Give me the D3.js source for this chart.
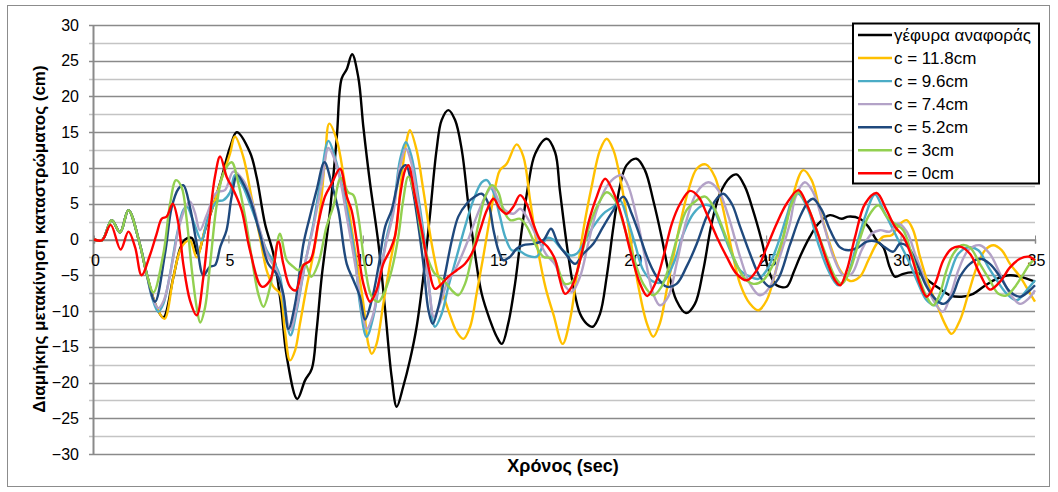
<!DOCTYPE html>
<html>
<head>
<meta charset="utf-8">
<script src="https://cdn.jsdelivr.net/npm/d3@7"></script>
<style>
body { margin: 0; background: #fff; }
text { font-family: "Liberation Sans", Arial, sans-serif; }
</style>
</head>
<body>
<script>
var w = 1058;
var h = 492;

// series names and time/displacement points (t in sec, value in cm)
var seriesNames = ["γέφυρα αναφοράς", "c = 11.8cm", "c = 9.6cm", "c = 7.4cm", "c = 5.2cm", "c = 3cm", "c = 0cm"];
var seriesColors = ["#000000", "#FFC000", "#4BACC6", "#B3A2C7", "#1F497D", "#92D050", "#FF0000"];

var startPts = [[0,0],[0.3,-0.1],[0.66,2.7],[0.97,1.0],[1.28,4.1],[1.7,-0.6],[1.96,-4.8]];

var bridge = startPts.concat([[2.33,-9.5],[2.58,-10.9],[2.95,-5.3],[3.2,-1.3],[3.39,0],[3.64,0.2],[3.85,-2.0],[4.13,1.3],[4.44,4.8],[4.75,8.7],[5.06,12.9],[5.31,15],[5.8,12.2],[6.05,8.7],[6.36,2.2],[6.67,-2],[6.95,-9],[7.17,-16.4],[7.56,-22.3],[7.85,-19.7],[8.1,-18.1],[8.28,-12.7],[8.47,-5.2],[8.78,4.1],[9.03,14.3],[9.21,22.5],[9.4,23.8],[9.6,25.9],[9.83,22.7],[10.02,15.7],[10.27,7.8],[10.58,-0.6],[10.83,-9.9],[11.07,-19.2],[11.26,-23.4],[11.5,-20.6],[11.75,-16.9],[12.0,-12.2],[12.25,-5.2],[12.49,3.2],[12.74,12.5],[12.93,16.7],[13.18,18.1],[13.43,16.7],[13.68,12.5],[13.92,5],[14.17,-2],[14.42,-7.6],[14.73,-11.3],[14.98,-13.6],[15.17,-14.6],[15.41,-11.7],[15.66,-6.2],[15.91,1.3],[16.16,7.8],[16.41,12],[16.84,14.1],[17.15,12.2],[17.33,6.8],[17.58,-0.6],[17.83,-6.6],[18.08,-10.4],[18.33,-11.8],[18.55,-12.2],[18.82,-10.4],[19.07,-5.2],[19.32,1.8],[19.56,7.4],[19.81,10.4],[20.18,11.3],[20.49,9.7],[20.8,5.5],[21.11,0.4],[21.36,-4.3],[21.66,-8.5],[22.02,-10.3],[22.35,-9],[22.66,-4.3],[22.97,2.2],[23.28,6.4],[23.66,8.7],[23.9,9.1],[24.21,7.4],[24.51,4.1],[24.83,-0.1],[25.14,-4.8],[25.39,-6.4],[25.76,-6.6],[26.03,-4.5],[26.26,-2.4],[26.63,0.4],[26.94,2.2],[27.37,3.4],[27.81,2.9],[28.06,3.2],[28.49,2.9],[28.8,1.8],[29.11,-0.1],[29.36,-1.1],[29.6,-3.9],[29.79,-5.2],[30.1,-4.8],[30.41,-4.6],[30.72,-4.8],[31.09,-5.9],[31.46,-6.9],[31.84,-7.8],[32.27,-8],[32.7,-7.6],[33.08,-6.6],[33.57,-5.5],[34.07,-5],[34.44,-5.2],[35,-5.9]]);

var c118 = startPts.concat([[2.33,-9.5],[2.62,-11.1],[2.95,-5.3],[3.2,-1.5],[3.39,-0.4],[3.57,-0.1],[3.82,-2.5],[4.13,1.5],[4.44,4.8],[4.75,8.5],[5.06,12],[5.24,14.4],[5.55,11.6],[5.86,5.9],[6.17,0.4],[6.42,-4.3],[6.67,-6.6],[6.92,-7.6],[7.1,-12.7],[7.29,-16.9],[7.48,-15.5],[7.66,-11.8],[7.91,-6.6],[8.16,-2],[8.41,4.1],[8.59,11.1],[8.75,16.2],[9.03,13.9],[9.3,8.5],[9.65,-0.1],[10.02,-9],[10.2,-14.6],[10.33,-16],[10.51,-14.6],[10.76,-9],[11.01,-3.4],[11.26,1.8],[11.44,8.8],[11.63,13.9],[11.75,15.3],[12.0,12.5],[12.25,6.9],[12.56,-0.6],[12.87,-6.2],[13.18,-9.9],[13.49,-12.9],[13.74,-13.9],[13.99,-12.2],[14.23,-7.6],[14.48,-2.4],[14.73,3.2],[14.98,8.3],[15.1,9.7],[15.35,10.6],[15.72,13.3],[15.97,11.6],[16.22,5.5],[16.47,-0.6],[16.8,-6.8],[17.09,-10.5],[17.43,-14.6],[17.7,-11.3],[17.95,-5.2],[18.2,1.3],[18.51,7.4],[18.82,12.5],[19.07,14.1],[19.32,12.5],[19.63,7.4],[19.94,0.4],[20.25,-6.6],[20.56,-11.7],[20.8,-13.6],[21.05,-11.7],[21.3,-7.1],[21.55,-2.4],[21.8,2.2],[22.11,6.9],[22.42,9.9],[22.75,10.5],[23.1,8.7],[23.41,4.1],[23.72,-1.5],[24.03,-6.2],[24.4,-9],[24.71,-9.9],[25.02,-8.5],[25.33,-4.8],[25.64,0.4],[25.95,5.5],[26.38,9.7],[26.69,8.3],[27.0,4.1],[27.37,-0.6],[27.75,-4.3],[28.12,-5.8],[28.49,-5.2],[28.8,-2.9],[29.11,-0.6],[29.36,0.4],[29.67,0.6],[29.98,2.2],[30.23,2.7],[30.47,1.3],[30.72,-2.4],[31.03,-6.2],[31.34,-9],[31.65,-11.8],[31.9,-13.2],[32.21,-11.3],[32.52,-7.6],[32.83,-3.9],[33.14,-1.5],[33.45,-0.8],[33.76,-1.5],[34.07,-3.4],[34.44,-5.2],[34.75,-7.1],[35,-8.7]]);

var c96 = startPts.concat([[2.15,-8],[2.39,-10.1],[2.58,-9],[2.83,-4.8],[3.07,0.4],[3.32,4.1],[3.45,4.6],[3.7,2.5],[4.0,-0.1],[4.25,3.2],[4.56,5.3],[4.81,5.5],[5.06,6.6],[5.24,9],[5.49,7.8],[5.8,5],[6.11,1.8],[6.42,-1.5],[6.73,-3.4],[6.92,-5.2],[7.1,-9.9],[7.31,-13.4],[7.54,-9.9],[7.85,-3.4],[8.16,2.2],[8.41,7.8],[8.72,13.8],[8.96,11.5],[9.21,7.8],[9.46,3.2],[9.71,-2.4],[9.89,-9],[10.14,-13.6],[10.39,-10.8],[10.64,-5.2],[10.89,0.4],[11.13,4.1],[11.38,11.1],[11.6,13.6],[11.81,11.6],[12.06,6],[12.31,-0.6],[12.49,-7.6],[12.68,-12.2],[12.93,-10.4],[13.18,-6.6],[13.49,-2.4],[13.8,1.8],[14.11,5.5],[14.42,8],[14.61,8.3],[14.86,6.6],[15.1,3.2],[15.29,0.4],[15.54,-1.5],[15.78,-1.5],[16.09,-2.2],[16.47,-2.4],[16.84,0.2],[17.08,0],[17.33,-1.1],[17.7,-2.2],[17.95,-2],[18.2,-0.6],[18.57,1.8],[18.94,3.6],[19.32,4.6],[19.56,5.5],[19.81,3.2],[20.12,-0.6],[20.43,-4.3],[20.8,-5.9],[21.17,-5.9],[21.55,-3.4],[21.92,0.8],[22.29,3.6],[22.66,4.8],[22.97,4.6],[23.28,2.2],[23.66,-1.5],[24.03,-4.3],[24.4,-5.2],[24.71,-5.5],[25.02,-4.3],[25.39,-1.1],[25.76,3.2],[26.0,5.8],[26.2,6.4],[26.57,4.1],[26.94,-0.6],[27.31,-4.3],[27.68,-6.4],[28.0,-5.2],[28.31,-1.5],[28.68,3.2],[29.05,6.3],[29.36,4.1],[29.67,1.8],[29.98,-0.6],[30.35,-3.4],[30.66,-6.2],[30.97,-8.5],[31.28,-9.2],[31.59,-7.6],[31.84,-4.8],[32.15,-2],[32.52,-1.1],[32.89,-1.5],[33.27,-3.9],[33.58,-5.7],[33.95,-7.6],[34.32,-8.5],[34.69,-7.1],[35,-5.7]]);

var c74 = startPts.concat([[2.15,-7.8],[2.39,-9.6],[2.6,-8.5],[2.9,-3.5],[3.15,1.5],[3.4,4.5],[3.57,5.3],[3.75,3.8],[3.94,1.3],[4.2,3.5],[4.56,6.6],[4.87,6.9],[5.18,9.5],[5.55,8.3],[5.86,5.5],[6.17,1.3],[6.48,-2.4],[6.79,-4.3],[7.04,-8],[7.29,-12.7],[7.54,-9.4],[7.85,-3.4],[8.16,1.8],[8.47,7.8],[8.72,12.8],[8.96,11.1],[9.2,7.5],[9.4,3.2],[9.6,-1],[9.8,-5.5],[9.97,-10],[10.14,-12.5],[10.39,-10.4],[10.64,-4.8],[10.89,-0.1],[11.13,3.6],[11.38,10.2],[11.6,12.7],[11.81,10.6],[12.06,5],[12.31,-1.5],[12.49,-7.6],[12.64,-10.8],[12.87,-9],[13.12,-6.2],[13.49,-3.8],[13.86,-0.6],[14.23,3.2],[14.55,6],[14.8,7.3],[15.04,5.5],[15.29,4.1],[15.6,3.6],[15.85,4.3],[16.09,3.2],[16.47,0.4],[16.84,-2.2],[17.15,-3.5],[17.46,-6.2],[17.77,-7.3],[18.08,-5.2],[18.38,-0.6],[18.7,4.1],[19.07,7.4],[19.44,8.8],[19.63,9],[19.88,7.4],[20.18,3.2],[20.49,-2.4],[20.8,-7.6],[21.05,-9.2],[21.36,-8],[21.67,-3.4],[22.04,2.7],[22.42,6.6],[22.85,8],[23.22,6.9],[23.6,3.2],[24.03,-2.4],[24.4,-6.2],[24.77,-7.8],[25.14,-6.6],[25.51,-2.4],[25.88,2.2],[26.1,6],[26.44,8],[26.75,6.6],[27.13,2.2],[27.5,-2.4],[27.87,-5],[28.18,-4.8],[28.55,-1.5],[28.92,0.8],[29.23,1.3],[29.6,1.1],[29.92,2.2],[30.23,1.1],[30.54,-2],[30.86,-5.2],[31.22,-8.5],[31.57,-10.1],[31.84,-8],[32.15,-4.3],[32.52,-1.5],[32.95,-0.8],[33.32,-2],[33.7,-4.8],[34.07,-7.6],[34.44,-9],[34.75,-8.3],[35,-7.1]]);

var c52 = startPts.concat([[2.27,-8.7],[2.64,-2],[2.89,4.5],[3.14,7.1],[3.32,7.6],[3.57,4.5],[3.82,-0.6],[4.07,-5],[4.31,-3.8],[4.5,-3.6],[4.7,-1],[4.93,1.3],[5.12,6],[5.33,9],[5.62,7.3],[5.86,5],[6.17,0.8],[6.48,-3.4],[6.79,-4.8],[7.04,-7.6],[7.23,-12.5],[7.48,-9],[7.79,-0.6],[8.03,3.2],[8.28,6.9],[8.57,10.8],[8.84,7.8],[9.09,4.1],[9.4,-3.4],[9.65,-5.7],[9.89,-8],[10.08,-11.2],[10.33,-8.5],[10.58,-3.8],[10.83,1.8],[11.07,4.1],[11.26,7.3],[11.44,9.9],[11.6,10.4],[11.81,7.8],[12.0,3.6],[12.25,-3.4],[12.44,-9.9],[12.6,-11.8],[12.81,-9.4],[13.06,-4.8],[13.31,-0.1],[13.55,3.2],[13.86,5],[14.17,6],[14.42,6.4],[14.67,5],[14.86,1.3],[15.04,-1.5],[15.23,-2.9],[15.48,-2.4],[15.72,-1.3],[15.97,-0.8],[16.34,-0.6],[16.71,-0.1],[17.0,1.5],[17.25,-0.5],[17.58,-2.2],[17.89,-3.4],[18.2,-2],[18.57,-0.6],[18.94,1.8],[19.32,4.1],[19.69,6],[20.0,3.6],[20.31,0.4],[20.62,-2.9],[20.93,-5.2],[21.3,-6.6],[21.67,-6.2],[22.04,-3.8],[22.42,-0.6],[22.79,3.2],[23.16,5.7],[23.41,6.4],[23.72,5],[24.03,1.8],[24.4,-2],[24.77,-5.2],[25.14,-6.6],[25.45,-5.5],[25.88,-0.8],[26.26,3.2],[26.57,5.3],[26.75,5.7],[27.07,4.1],[27.38,1.3],[27.75,-1.1],[28.06,-1.5],[28.43,-1.1],[28.74,-0.3],[29.11,-0.3],[29.42,-1.1],[29.73,-1.7],[29.98,-0.6],[30.29,-1.1],[30.6,-3.4],[30.97,-6.6],[31.34,-8.5],[31.59,-9],[31.9,-8],[32.21,-5.2],[32.58,-3.4],[32.95,-2.7],[33.32,-3.4],[33.7,-5.2],[34.07,-7.3],[34.44,-8],[34.75,-7.3],[35,-6.4]]);

var c3 = startPts.concat([[2.21,-7.4],[2.58,-2],[2.83,5],[3.05,8.3],[3.26,7.3],[3.45,2.7],[3.64,-4.3],[3.82,-9.5],[3.95,-11.6],[4.13,-9.5],[4.32,-3.4],[4.57,5],[4.81,9.2],[5.12,10.8],[5.37,7.8],[5.62,3.2],[5.86,-2.4],[6.11,-7.6],[6.3,-9.4],[6.55,-6.6],[6.73,-2.4],[6.92,0.8],[7.17,-2.9],[7.41,-3.8],[7.6,-4.3],[7.85,-3.4],[8.08,-5.2],[8.34,-3.4],[8.65,1.8],[8.9,4.6],[9.18,8.6],[9.46,6.6],[9.65,6.2],[9.83,3.2],[10.08,-3.8],[10.33,-8],[10.58,-8.7],[10.83,-7.1],[11.07,-4.3],[11.32,0.4],[11.5,5.5],[11.69,8.8],[11.94,6],[12.19,0.4],[12.44,-2.9],[12.68,-4.8],[13.0,-5.7],[13.31,-7.1],[13.55,-7.8],[13.8,-6.2],[14.05,-2.4],[14.3,2.2],[14.55,6],[14.8,7.6],[15.04,6.6],[15.23,4.1],[15.48,2.7],[15.85,2.9],[16.1,1.8],[16.34,-0.1],[16.71,-2.4],[17.09,-2.7],[17.52,-6.2],[17.83,-5.7],[18.14,-2],[18.45,2.2],[18.76,5],[19.07,6.6],[19.38,5.5],[19.69,2.2],[20.06,-2.4],[20.43,-6.2],[20.8,-7.8],[21.11,-6.6],[21.42,-3.4],[21.73,0.8],[22.04,4.1],[22.42,5.5],[22.73,6],[23.04,4.6],[23.41,1.3],[23.78,-2.4],[24.15,-5.2],[24.52,-6.2],[24.89,-5.7],[25.27,-3.4],[25.64,0.4],[25.95,5],[26.2,6.6],[26.5,5],[26.88,1.3],[27.25,-2.4],[27.56,-5.2],[27.81,-6.2],[28.12,-4.3],[28.43,-0.6],[28.8,3.2],[29.17,4.8],[29.48,3.2],[29.79,2.2],[30.1,1.3],[30.41,-2],[30.72,-5.7],[30.97,-8],[31.22,-9.2],[31.46,-7.6],[31.71,-4.3],[31.96,-2],[32.27,-0.8],[32.58,-1.1],[32.95,-3.4],[33.32,-5.7],[33.64,-7.6],[33.95,-7.8],[34.26,-6.6],[34.57,-4.8],[34.81,-3.4],[35,-2.7]]);

var c0 = [[0,0],[0.3,-0.1],[0.62,2.05],[0.99,-1.4],[1.28,1.1],[1.53,-1.1],[1.77,-5],[2.08,-2.2],[2.33,0.8],[2.52,2.9],[2.7,3.2],[2.93,5],[3.14,2.2],[3.32,-3.4],[3.57,-8.5],[3.82,-10.6],[4.07,-5.2],[4.31,3.2],[4.5,8.8],[4.69,11.6],[4.94,8.7],[5.19,6.9],[5.49,4.1],[5.8,-1.5],[6.24,-6.6],[6.55,-5.7],[6.86,-0.3],[7.04,-3.4],[7.29,-6.6],[7.51,-7.1],[7.79,-3.6],[8.05,-2.9],[8.34,2.2],[8.59,6],[8.84,7.8],[9.15,9.9],[9.4,6],[9.58,4.1],[9.77,-0.1],[10.02,-6.2],[10.27,-8.7],[10.51,-7.1],[10.76,-3.4],[11.01,-1.5],[11.19,0.4],[11.38,6],[11.57,9.7],[11.69,10.4],[11.94,6],[12.19,1.3],[12.44,-3.8],[12.68,-6.9],[12.93,-6.2],[13.18,-5.2],[13.49,-4.3],[13.8,-3.4],[14.11,-1.5],[14.36,1.3],[14.61,4.1],[14.86,5.7],[15.1,4.3],[15.35,3.6],[15.6,4.6],[15.85,6.2],[16.09,5],[16.34,2.2],[16.59,0],[16.87,-1],[17.15,-2.8],[17.3,-5.2],[17.52,-7.6],[17.77,-6.6],[18.08,-2.9],[18.38,2.2],[18.7,6],[19.01,8.5],[19.32,6.6],[19.63,3.2],[19.94,-1.5],[20.31,-6.2],[20.58,-7.9],[20.87,-6.2],[21.18,-2.4],[21.49,2.2],[21.8,5],[22.17,6.8],[22.48,6],[22.79,3.6],[23.16,0.4],[23.53,-2.4],[23.9,-4.8],[24.28,-5.7],[24.65,-4.3],[25.02,-1.1],[25.39,2.2],[25.76,5],[26.2,6.9],[26.5,5],[26.88,1.3],[27.25,-2.9],[27.56,-5.7],[27.75,-6.4],[28.0,-4.3],[28.31,0.4],[28.68,5],[29.11,6.5],[29.48,4.1],[29.79,1.8],[30.1,0.4],[30.41,-2.4],[30.72,-6.2],[30.97,-8],[31.28,-6.2],[31.59,-2.9],[31.9,-1.3],[32.21,-1],[32.58,-2],[32.95,-4.8],[33.32,-7],[33.7,-5.9],[34.07,-3.9],[34.44,-2.7],[34.75,-2.4],[35,-2.9]];

var allSeries = [bridge, c118, c96, c74, c52, c3, c0];

var xTicks = [0, 5, 10, 15, 20, 25, 30, 35];
var yTicks = [-30, -25, -20, -15, -10, -5, 0, 5, 10, 15, 20, 25, 30];
var yMinorTicks = [-27.5, -22.5, -17.5, -12.5, -7.5, -2.5, 2.5, 7.5, 12.5, 17.5, 22.5, 27.5];

var xScale = d3.scaleLinear().domain([0, 35]).range([94, 1035]);
var yScale = d3.scaleLinear().domain([-30, 30]).range([454, 25]);

var svg = d3.select("body")
    .append("svg")
    .attr("width", w)
    .attr("height", h);

// outer chart border
svg.append("rect")
    .attr("x", 7.5).attr("y", 5.5)
    .attr("width", 1042).attr("height", 481)
    .attr("fill", "#fff")
    .attr("stroke", "#8c8c8c")
    .attr("stroke-width", 1);

// gridlines
svg.selectAll("line.minor")
    .data(yMinorTicks)
    .enter()
    .append("line")
    .attr("class", "minor")
    .attr("x1", 89).attr("x2", 1035)
    .attr("y1", function(d){ return Math.round(yScale(d)) + 0.5; })
    .attr("y2", function(d){ return Math.round(yScale(d)) + 0.5; })
    .attr("stroke", "#c4c4c4")
    .attr("stroke-width", 1.5);

svg.selectAll("line.major")
    .data(yTicks)
    .enter()
    .append("line")
    .attr("class", "major")
    .attr("x1", 89).attr("x2", 1035)
    .attr("y1", function(d){ return Math.round(yScale(d)) + 0.5; })
    .attr("y2", function(d){ return Math.round(yScale(d)) + 0.5; })
    .attr("stroke", "#8a8a8a")
    .attr("stroke-width", 1.5);

// y axis
var yAxis = d3.axisLeft(yScale)
    .tickValues(yTicks)
    .tickSize(0)
    .tickPadding(14)
    .tickFormat(d3.format("d"));
var gy = svg.append("g")
    .attr("transform", "translate(93,0)")
    .call(yAxis);
gy.select(".domain").attr("stroke", "#8a8a8a").attr("stroke-width", 2);
gy.selectAll("text").attr("font-size", "16px").attr("fill", "#000")
    .attr("font-family", "'Liberation Sans', Arial, sans-serif");

// x axis crossing at zero
var xAxis = d3.axisBottom(xScale)
    .tickValues(xTicks)
    .tickSize(4)
    .tickPadding(11)
    .tickFormat(d3.format("d"));
var gx = svg.append("g")
    .attr("transform", "translate(0," + yScale(0) + ")")
    .call(xAxis);
gx.select(".domain").attr("stroke", "#8a8a8a").attr("stroke-width", 1.5);
gx.selectAll(".tick line").attr("stroke", "#8a8a8a").attr("y1", -4);
gx.selectAll("text").attr("font-size", "16px").attr("fill", "#000").attr("dx", "1")
    .attr("font-family", "'Liberation Sans', Arial, sans-serif");

// series lines
var line = d3.line()
    .x(function(d){ return xScale(d[0]); })
    .y(function(d){ return yScale(d[1]); })
    .curve(d3.curveCatmullRom.alpha(0.5));

svg.selectAll("path.series")
    .data(allSeries)
    .enter()
    .append("path")
    .attr("class", "series")
    .attr("d", line)
    .attr("fill", "none")
    .attr("stroke", function(d, i){ return seriesColors[i]; })
    .attr("stroke-width", 2.4)
    .attr("stroke-linejoin", "round");

// axis titles
svg.append("text")
    .attr("x", 563).attr("y", 472)
    .attr("text-anchor", "middle")
    .attr("font-size", "18px")
    .attr("font-weight", "bold")
    .text("Χρόνος (sec)");

svg.append("text")
    .attr("transform", "translate(45,239) rotate(-90)")
    .attr("text-anchor", "middle")
    .attr("font-size", "17px")
    .attr("font-weight", "bold")
    .text("Διαμήκης μετακίνηση καταστρώματος (cm)");

// legend
var legend = svg.append("g");
legend.append("rect")
    .attr("x", 853).attr("y", 23.5)
    .attr("width", 186).attr("height", 160)
    .attr("fill", "#fff")
    .attr("stroke", "#000")
    .attr("stroke-width", 2);

var items = legend.selectAll("g.item")
    .data(seriesNames)
    .enter()
    .append("g")
    .attr("class", "item")
    .attr("transform", function(d, i){ return "translate(0," + (35 + i * 23.05) + ")"; });
items.append("line")
    .attr("x1", 858).attr("x2", 892)
    .attr("y1", 0).attr("y2", 0)
    .attr("stroke", function(d, i){ return seriesColors[i]; })
    .attr("stroke-width", 2.4);
items.append("text")
    .attr("x", 894).attr("y", 6)
    .attr("font-size", "17px")
    .text(function(d){ return d; });
</script>
</body>
</html>
